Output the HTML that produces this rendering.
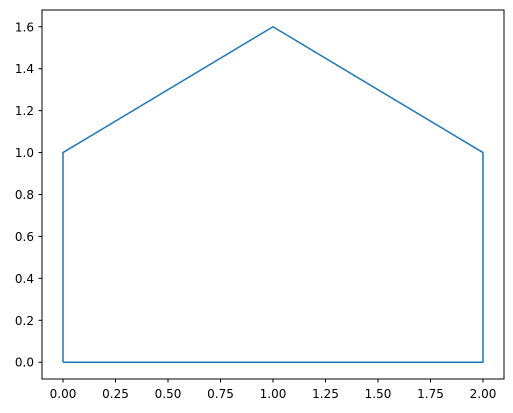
<!DOCTYPE html>
<html><head><meta charset="utf-8"><style>
body{margin:0;background:#fff;}
svg{display:block;font-family:"DejaVu Sans","Liberation Sans",sans-serif;}
</style></head><body>
<svg id="chart" width="513" height="413"></svg>
<script>
const xs=[0,0,1,2,2,0];
const ys=[0,1,1.6,1,0,0];
const xTicks=[0,0.25,0.5,0.75,1,1.25,1.5,1.75,2];
const xTickLabels=["0.00","0.25","0.50","0.75","1.00","1.25","1.50","1.75","2.00"];
const yTicks=[0,0.2,0.4,0.6,0.8,1,1.2,1.4,1.6];
const yTickLabels=["0.0","0.2","0.4","0.6","0.8","1.0","1.2","1.4","1.6"];
const L=42,R=504,T=10,B=379;
const x0=-0.1,x1=2.1,y0=-0.08,y1=1.68;
const sx=v=>L+(v-x0)/(x1-x0)*(R-L);
const sy=v=>B-(v-y0)/(y1-y0)*(B-T);
const svg=document.getElementById('chart');
const NS='http://www.w3.org/2000/svg';
function mk(t,a){const e=document.createElementNS(NS,t);for(const k in a)e.setAttribute(k,a[k]);svg.appendChild(e);return e;}
const line=mk('polyline',{points:xs.map((x,i)=>sx(x)+','+sy(ys[i])).join(' '),fill:'none',stroke:'#1f77b4','stroke-width':1.5,'stroke-linejoin':'round'});


const frame=mk('rect',{x:L,y:T,width:R-L,height:B-T,fill:'none',stroke:'#000','stroke-width':1});


xTicks.forEach((v,i)=>{
 const t=mk('line',{x1:sx(v),x2:sx(v),y1:B,y2:B+3.5,stroke:'#000'});
 
 
 const l=mk('text',{x:sx(v),y:B+19,'text-anchor':'middle','font-size':12,fill:'#000'});
 l.textContent=xTickLabels[i];
 
 
});
yTicks.forEach((v,i)=>{
 const t=mk('line',{x1:L-3.5,x2:L,y1:sy(v),y2:sy(v),stroke:'#000'});
 
 
 const l=mk('text',{x:L-8,y:sy(v)+4.5,'text-anchor':'end','font-size':12,fill:'#000'});
 l.textContent=yTickLabels[i];
 
 
});
</script>
</body></html>
